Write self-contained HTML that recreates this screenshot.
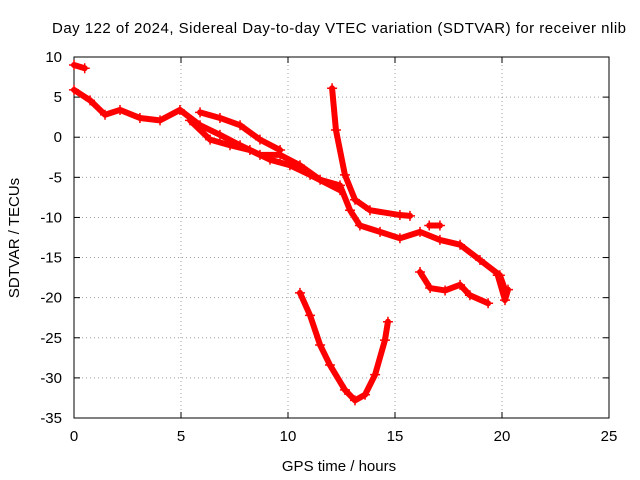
<!DOCTYPE html>
<html><head><meta charset="utf-8"><style>
body{margin:0;background:#fff}
svg{display:block;font-family:"Liberation Sans",sans-serif;font-size:15px}
</style></head><body>
<svg id="chart" width="640" height="480">
<text x="339" y="33" text-anchor="middle" textLength="574">Day 122 of 2024, Sidereal Day-to-day VTEC variation (SDTVAR) for receiver nlib</text>
<text x="339" y="471" text-anchor="middle">GPS time / hours</text>
<text transform="translate(19,238) rotate(-90)" text-anchor="middle">SDTVAR / TECUs</text>
<g id="grid"></g>
<g id="axes"></g>
<g id="series"></g>
</svg>
<script>
const xTicks=[0,5,10,15,20,25];
const yTicks=[10,5,0,-5,-10,-15,-20,-25,-30,-35];
const trackA=[[0,9],[0.5,8.6]];
const trackMain=[[0,5.9],[0.75,4.6],[1.45,2.8],[2.15,3.4],[3.08,2.4],[4.02,2.1],[4.95,3.4],[5.89,1.5],[6.82,0.3],[7.76,-1.0],[8.69,-2.2],[9.63,-2.2],[10.56,-3.5],[11.5,-5.3],[12.43,-6.0],[12.9,-9.1],[13.36,-11],[14.3,-11.8],[15.23,-12.6],[16.17,-11.8],[17.1,-12.8],[18.04,-13.4],[18.97,-15.3],[19.9,-17.2],[20.14,-19]];
const trackSteep=[[12.06,6.1],[12.24,0.9],[12.66,-4.7],[13.13,-7.8],[13.83,-9.1],[15.23,-9.7],[15.7,-9.8]];
const trackB=[[5.42,2.1],[6.36,-0.3],[7.29,-1.0],[8.22,-1.6],[9.16,-2.8],[10.09,-3.5],[11.03,-4.7],[12.43,-6.6]];
const trackC=[[5.89,3.1],[6.82,2.4],[7.76,1.5],[8.69,-0.3],[9.63,-1.6]];
const trackD=[[16.6,-11],[17.1,-11]];
const trackDip=[[10.56,-19.4],[11.03,-22.2],[11.5,-25.9],[11.96,-28.4],[12.66,-31.5],[13.13,-32.8],[13.6,-32.1],[14.07,-29.6],[14.53,-25.3],[14.67,-23.0]];
const trackE=[[16.17,-16.8],[16.64,-18.8],[17.34,-19.1],[18.04,-18.4],[18.5,-19.7],[19.35,-20.7]];
const trackEnd=[[19.8,-17.2],[20.14,-20.3],[20.28,-19]];
const tracks=[trackA,trackMain,trackSteep,trackB,trackC,trackD,trackDip,trackE,trackEnd];
const X0=74,X1=609,Y0=57,Y1=418;
const sx=v=>X0+(v-0)/25*(X1-X0);
const sy=v=>Y0+(10-v)/45*(Y1-Y0);
const NS="http://www.w3.org/2000/svg";
function mk(t,a,p){const e=document.createElementNS(NS,t);for(const k in a)e.setAttribute(k,a[k]);p.appendChild(e);return e;}
const grid=document.getElementById('grid'),axes=document.getElementById('axes'),ser=document.getElementById('series');
xTicks.forEach(t=>{const x=sx(t);
 if(t>0&&t<25){const g=mk('line',{x1:x,x2:x,y1:Y0,y2:Y1,stroke:'#a0a0a0','stroke-dasharray':'1,3'},grid);}
 const l=mk('text',{x:x,y:Y1+23,'text-anchor':'middle'},axes);l.textContent=t;
 
 mk('line',{x1:x,x2:x,y1:Y1,y2:Y1-6,stroke:'#000'},axes);mk('line',{x1:x,x2:x,y1:Y0,y2:Y0+6,stroke:'#000'},axes);});
yTicks.forEach(t=>{const y=sy(t);
 if(t<10&&t>-35){const g=mk('line',{x1:X0,x2:X1,y1:y,y2:y,stroke:'#a0a0a0','stroke-dasharray':'1,3'},grid);}
 const l=mk('text',{x:X0-12,y:y+5,'text-anchor':'end'},axes);l.textContent=t;
 
 mk('line',{x1:X0,x2:X0+6,y1:y,y2:y,stroke:'#000'},axes);mk('line',{x1:X1,x2:X1-6,y1:y,y2:y,stroke:'#000'},axes);});
const fr=mk('rect',{x:X0,y:Y0,width:X1-X0,height:Y1-Y0,fill:'none',stroke:'#000'},axes);

tracks.forEach(tr=>{
 const pl=mk('polyline',{points:tr.map(p=>sx(p[0])+','+sy(p[1])).join(' '),fill:'none',stroke:'#f00','stroke-width':6,'stroke-linejoin':'round','stroke-linecap':'round'},ser);
 
 tr.forEach(p=>{const x=sx(p[0]),y=sy(p[1]);
  const m=mk('path',{d:`M${x-5},${y}H${x+5}M${x},${y-5}V${y+5}`,stroke:'#f00','stroke-width':1.5},ser);
  });
});
</script>
</body></html>
